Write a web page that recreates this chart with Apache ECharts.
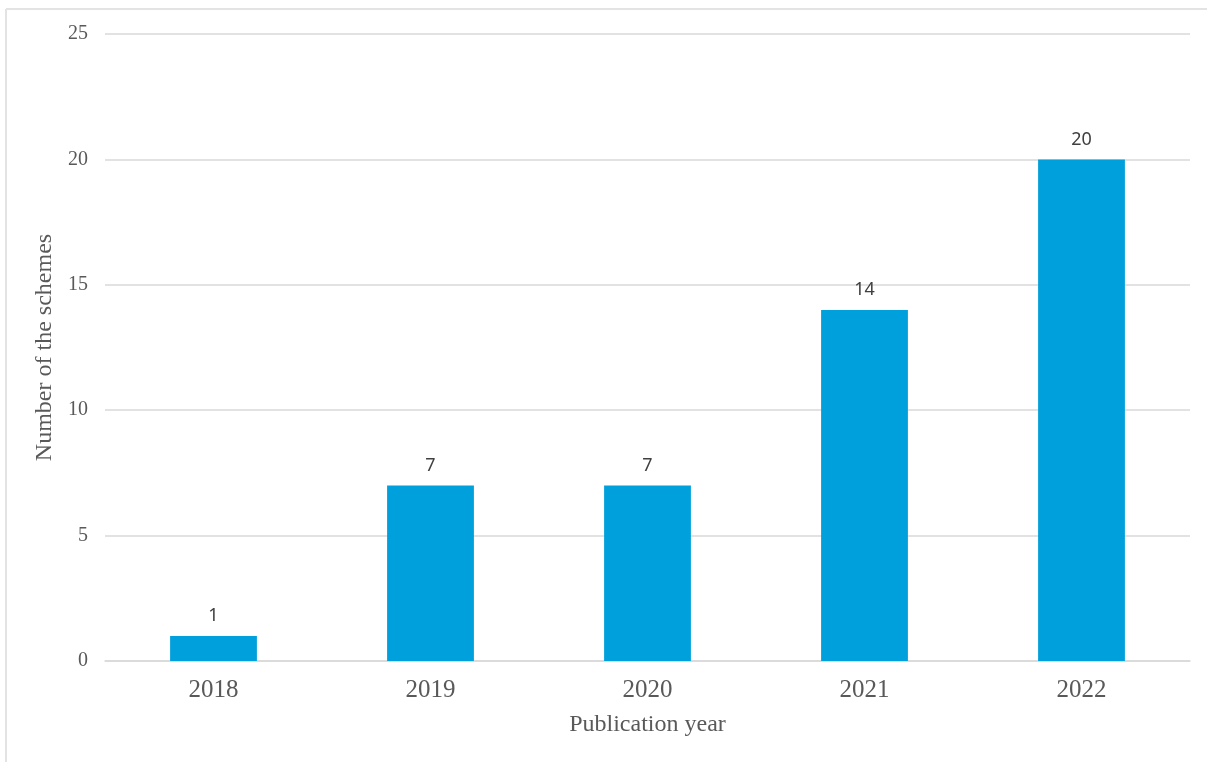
<!DOCTYPE html>
<html>
<head>
<meta charset="utf-8">
<script src="https://cdn.jsdelivr.net/npm/echarts@6/dist/echarts.min.js"></script>
<style>html,body{margin:0;padding:0;background:#fff;}#c{width:1207px;height:762px;}</style>
</head>
<body>
<div id="c"></div>
<script>
const categories = ['2018', '2019', '2020', '2021', '2022'];
const schemeCounts = [1, 7, 7, 14, 20];
const yTicks = [0, 5, 10, 15, 20, 25];

const chart = echarts.init(document.getElementById('c'), null, {renderer: 'canvas'});
chart.setOption({
  animation: false,
  backgroundColor: '#ffffff',
  graphic: [
    {type: 'line', shape: {x1: 6, y1: 9, x2: 1207, y2: 9}, style: {stroke: '#e3e3e3', lineWidth: 2}},
    {type: 'line', shape: {x1: 6, y1: 9, x2: 6, y2: 762}, style: {stroke: '#e3e3e3', lineWidth: 2}}
  ],
  grid: {left: 105, right: 17, top: 34, bottom: 101, containLabel: false},
  xAxis: {
    type: 'category',
    data: categories,
    name: 'Publication year',
    nameLocation: 'middle',
    nameGap: 52,
    nameTextStyle: {fontFamily: 'Liberation Serif', fontSize: 24, color: '#595959'},
    axisLine: {show: true, lineStyle: {color: '#d9d9d9', width: 1.5}},
    axisTick: {show: false},
    axisLabel: {fontFamily: 'Liberation Serif', fontSize: 25, color: '#595959', margin: 17}
  },
  yAxis: {
    type: 'value',
    min: yTicks[0],
    max: yTicks[yTicks.length - 1],
    interval: 5,
    name: 'Number of the schemes',
    nameLocation: 'middle',
    nameGap: 40,
    nameRotate: 90,
    nameTextStyle: {fontFamily: 'Liberation Serif', fontSize: 24, color: '#595959'},
    axisLine: {show: false},
    axisTick: {show: false},
    splitLine: {lineStyle: {color: '#d9d9d9', width: 1.5}},
    axisLabel: {fontFamily: 'Liberation Serif', fontSize: 20, color: '#595959', margin: 17}
  },
  series: [{
    type: 'bar',
    data: schemeCounts,
    barWidth: '40%',
    itemStyle: {color: '#00A0DC'},
    label: {
      show: true,
      position: 'top',
      distance: 11,
      fontFamily: 'Noto Sans',
      fontSize: 18,
      color: '#404040'
    }
  }]
});
</script>
</body>
</html>
